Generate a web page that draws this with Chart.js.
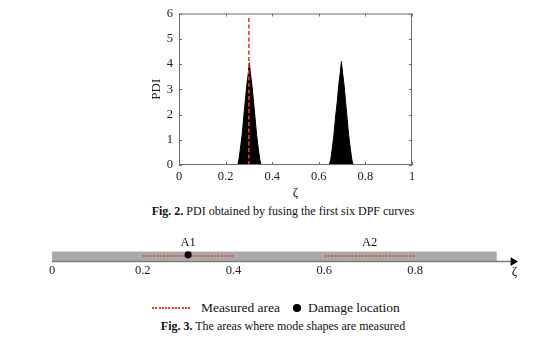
<!DOCTYPE html>
<html>
<head>
<meta charset="utf-8">
<script src="https://cdn.jsdelivr.net/npm/chart.js@4.4.1/dist/chart.umd.min.js"></script>
<style>
  html, body { margin:0; padding:0; background:#fff; }
  body { width:541px; height:349px; position:relative; overflow:hidden; font-family:"Liberation Serif","Times New Roman",serif; color:#111; }
  canvas { position:absolute; left:0; }
  #c1 { top:0; }
  #c2 { top:230px; }
  .cap { position:absolute; left:0; width:566px; text-align:center; font-size:12px; line-height:14px; white-space:nowrap; }
  #cap2 { top:204px; }
  #cap3 { top:319px; }
  .lg { position:absolute; font-size:13.5px; line-height:16px; white-space:nowrap; }
  #lgLine { position:absolute; left:152px; top:307px; width:40px; height:1.6px;
            background:repeating-linear-gradient(90deg,#f0382e 0 2px,transparent 2px 3.3px); }
  #lgDot { position:absolute; left:293px; top:304px; width:7.5px; height:7.5px; border-radius:50%; background:#000; }
</style>
</head>
<body>
<canvas id="c1" width="541" height="200"></canvas>
<div id="cap2" class="cap"><b>Fig. 2.</b> PDI obtained by fusing the first six DPF curves</div>
<canvas id="c2" width="541" height="55"></canvas>
<div id="lgLine"></div>
<div class="lg" style="left:201px;top:300px;">Measured area</div>
<div id="lgDot"></div>
<div class="lg" style="left:308px;top:300px;">Damage location</div>
<div id="cap3" class="cap"><b>Fig. 3.</b> The areas where mode shapes are measured</div>
<script>
// ---------- Fig. 2 data ----------
const pdiX = [0, 0.252, 0.257, 0.263, 0.271, 0.278, 0.284, 0.291, 0.297, 0.302, 0.307, 0.313, 0.320, 0.326, 0.333, 0.341, 0.347, 0.352,
              0.645, 0.651, 0.657, 0.665, 0.672, 0.679, 0.686, 0.692, 0.697, 0.702, 0.708, 0.715, 0.721, 0.728, 0.736, 0.742, 0.747, 1];
const pdiY = [0, 0, 0.2, 0.6, 1.2, 1.9, 2.5, 3.15, 3.6, 4.05, 3.6, 3.15, 2.5, 1.9, 1.2, 0.6, 0.2, 0,
              0, 0.2, 0.6, 1.2, 1.9, 2.5, 3.2, 3.65, 4.1, 3.65, 3.2, 2.5, 1.9, 1.2, 0.6, 0.2, 0, 0];
const damageX = 0.3;
const damageLineY = [0, 5.85];
const xTicks2 = [0, 0.2, 0.4, 0.6, 0.8, 1];
const yTicks2 = [0, 1, 2, 3, 4, 5, 6];

// ---------- Fig. 3 data ----------
const barTicks = [0, 0.2, 0.4, 0.6, 0.8];
const beamStart = 0, beamEnd = 0.98;
const arrowEnd = 1.012, arrowTip = 1.016;
const areaLabels = ['A1', 'A2'];
const areaStart = [0.2, 0.6];
const areaEnd = [0.4, 0.8];
const areaLabelX = [0.3, 0.7];
const damageLoc = [0.3];
const zetaX = 1.019;
// vertical levels (in hidden y-axis units)
const beamLevel = 0.2, axisLevel = 0.015, areaLevel = 0.22, dotLevel = 0.265, labelLevel = 0.72, zetaLevel = -0.36;

const SERIF = "'Liberation Serif', serif";
const AX = '#6e6e6e';
const fmt = v => String(Math.round(v * 1000) / 1000);

const boxPlugin = {
  id: 'box',
  afterDatasetsDraw(chart) {
    const {ctx, chartArea: a, scales: {x, y}} = chart;
    ctx.save();
    ctx.strokeStyle = AX; ctx.lineWidth = 1;
    ctx.strokeRect(a.left + 0.5, a.top + 0.5, a.right - a.left - 1, a.bottom - a.top - 1);
    ctx.beginPath();
    const tl = 3;
    yTicks2.forEach(v => {
      const p = Math.round(y.getPixelForValue(v)) + 0.5;
      ctx.moveTo(a.left, p); ctx.lineTo(a.left + tl, p);
      ctx.moveTo(a.right, p); ctx.lineTo(a.right - tl, p);
    });
    xTicks2.forEach(v => {
      const p = Math.round(x.getPixelForValue(v)) + 0.5;
      ctx.moveTo(p, a.bottom); ctx.lineTo(p, a.bottom - tl);
      ctx.moveTo(p, a.top); ctx.lineTo(p, a.top + tl);
    });
    ctx.stroke();
    ctx.restore();
  }
};

const textPlugin = {
  id: 'texts',
  afterDatasetsDraw(chart) {
    const {ctx, scales: {x, y}} = chart;
    ctx.save();
    ctx.fillStyle = '#111';
    ctx.textAlign = 'center'; ctx.textBaseline = 'middle';
    ctx.font = "12.5px " + SERIF;
    areaLabels.forEach((t, i) => ctx.fillText(t, x.getPixelForValue(areaLabelX[i]), y.getPixelForValue(labelLevel)));
    ctx.font = "13px " + SERIF;
    ctx.fillText('ζ', x.getPixelForValue(zetaX), y.getPixelForValue(zetaLevel));
    ctx.restore();
  }
};

function draw() {
  new Chart(document.getElementById('c1'), {
    type: 'line',
    data: {
      datasets: [
        {
          data: [{x: damageX, y: damageLineY[0]}, {x: damageX, y: damageLineY[1]}],
          borderColor: '#f0382e', borderWidth: 1.6, borderDash: [4, 2.5], pointRadius: 0, fill: false, order: 0
        },
        {
          data: pdiX.map((v, i) => ({x: v, y: pdiY[i]})),
          borderColor: '#000', backgroundColor: '#000', borderWidth: 1, pointRadius: 0,
          fill: 'origin', tension: 0, order: 1
        }
      ]
    },
    options: {
      responsive: false, animation: false, devicePixelRatio: 1,
      layout: {padding: {left: 140, right: 129, top: 11, bottom: 0}},
      plugins: {legend: {display: false}, tooltip: {enabled: false}},
      scales: {
        x: {
          type: 'linear', min: 0, max: 1,
          afterBuildTicks: s => { s.ticks = xTicks2.map(v => ({value: v})); },
          ticks: {font: {family: SERIF, size: 12.5}, color: '#222', padding: 4, maxRotation: 0, callback: fmt},
          grid: {display: false, drawTicks: false}, border: {display: false},
          title: {display: true, text: 'ζ', font: {family: SERIF, size: 13}, color: '#222', padding: {top: 0, bottom: 0}},
          afterFit: s => { s.height = 35; }
        },
        y: {
          type: 'linear', min: 0, max: 6,
          afterBuildTicks: s => { s.ticks = yTicks2.map(v => ({value: v})); },
          ticks: {font: {family: SERIF, size: 12.5}, color: '#222', padding: 6, callback: fmt},
          grid: {display: false, drawTicks: false}, border: {display: false},
          title: {display: true, text: 'PDI', font: {family: SERIF, size: 13}, color: '#222', padding: {top: 9, bottom: 0}},
          afterFit: s => { s.width = 39; }
        }
      }
    },
    plugins: [boxPlugin]
  });

  const RED = '#f0382e';
  new Chart(document.getElementById('c2'), {
    type: 'line',
    data: {
      datasets: [
        {data: damageLoc.map(v => ({x: v, y: dotLevel})), showLine: false, pointRadius: 3.6, pointBackgroundColor: '#000', pointBorderColor: '#000', pointBorderWidth: 0, order: 0, clip: false},
        ...areaStart.map((s, i) => ({
          data: [{x: s, y: areaLevel}, {x: areaEnd[i], y: areaLevel}],
          borderColor: RED, borderWidth: 1.6, borderDash: [2, 1.4], pointRadius: 0, fill: false, order: 1, clip: false
        })),
        {data: [{x: arrowTip, y: axisLevel}], showLine: false, pointStyle: 'triangle', rotation: 90, pointRadius: 5,
         pointBackgroundColor: '#000', pointBorderColor: '#000', pointBorderWidth: 0, order: 2, clip: false},
        {data: [{x: beamStart, y: axisLevel}, {x: arrowEnd, y: axisLevel}], borderColor: '#7c7c7c', borderWidth: 1.5, pointRadius: 0, fill: false, order: 3, clip: false},
        {data: [{x: beamStart, y: beamLevel}, {x: beamEnd, y: beamLevel}], borderColor: '#a9aba9', borderWidth: 10, borderCapStyle: 'butt', pointRadius: 0, fill: false, order: 4, clip: false}
      ]
    },
    options: {
      responsive: false, animation: false, devicePixelRatio: 1,
      layout: {padding: {left: 52, right: 17, top: 0, bottom: 0}},
      plugins: {legend: {display: false}, tooltip: {enabled: false}},
      scales: {
        x: {
          type: 'linear', min: 0, max: 1.04,
          afterBuildTicks: s => { s.ticks = barTicks.map(v => ({value: v})); },
          ticks: {font: {family: SERIF, size: 12.5}, color: '#222', padding: 1, maxRotation: 0, callback: fmt},
          grid: {display: false, drawTicks: false}, border: {display: false},
          afterFit: s => { s.height = 23; }
        },
        y: {type: 'linear', min: 0, max: 1, display: false}
      }
    },
    plugins: [textPlugin]
  });
}

if (document.fonts && document.fonts.load) {
  Promise.all([document.fonts.load("12px 'Liberation Serif'"), document.fonts.load("bold 12px 'Liberation Serif'")])
    .then(draw, draw);
} else {
  draw();
}
</script>
</body>
</html>
